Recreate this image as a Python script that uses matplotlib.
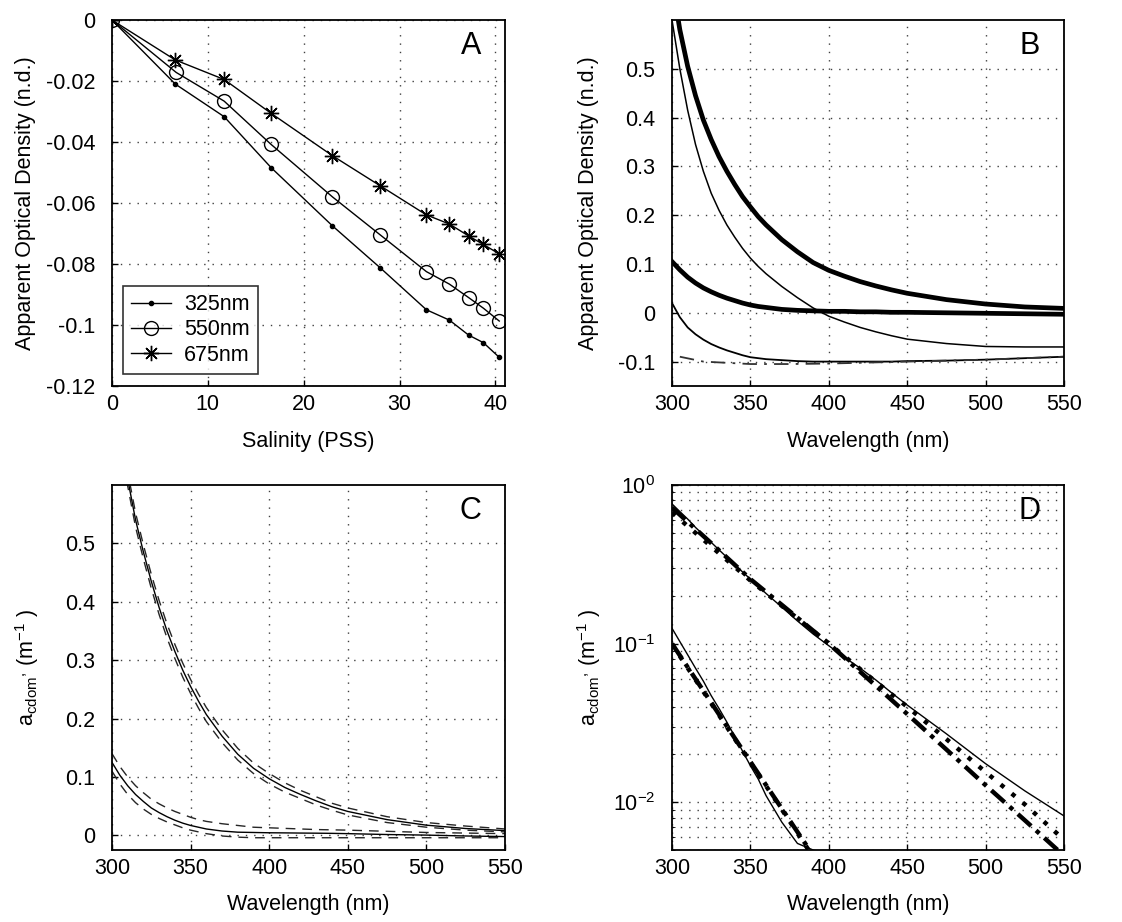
import numpy as np
import matplotlib
matplotlib.use("Agg")
import matplotlib.pyplot as plt

plt.rcParams['font.family'] = ['Liberation Sans', 'DejaVu Sans']
plt.rcParams['mathtext.fontset'] = 'custom'
plt.rcParams['mathtext.rm'] = 'Liberation Sans'
plt.rcParams['mathtext.it'] = 'Liberation Sans'
plt.rcParams['font.size'] = 15.5

# panel A: optical density vs salinity
sal_325 = [0, 6.6, 11.7, 16.6, 23.0, 28.0, 32.8, 35.2, 37.2, 38.75, 40.4]
od_325 = [0, -0.021, -0.0317, -0.0484, -0.0675, -0.0813, -0.095, -0.0984, -0.1033, -0.1058, -0.1106]
sal_550 = [0, 6.7, 11.7, 16.6, 23.0, 28.0, 32.8, 35.2, 37.2, 38.75, 40.4]
od_550 = [0, -0.0172, -0.0266, -0.0408, -0.058, -0.0705, -0.0825, -0.0866, -0.091, -0.0945, -0.0987]
sal_675 = [0, 6.6, 11.7, 16.6, 23.0, 28.0, 32.8, 35.2, 37.2, 38.75, 40.4]
od_675 = [0, -0.0131, -0.0195, -0.0306, -0.0445, -0.0544, -0.0639, -0.0669, -0.0708, -0.0736, -0.0767]

# panel B: spectra
wl_b = [300, 305, 310, 315, 320, 325, 330, 335, 340, 345, 350, 355, 360,
        370, 380, 390, 400, 410, 420, 430, 440, 450, 475, 500, 525, 550]
b_thick_hi = [0.68, 0.58, 0.505, 0.445, 0.395, 0.355, 0.32, 0.29, 0.263, 0.238, 0.217, 0.197, 0.18,
              0.15, 0.125, 0.103, 0.087, 0.075, 0.064, 0.055, 0.047, 0.04, 0.027, 0.018, 0.012, 0.009]
b_thin_hi = [0.6, 0.5, 0.415, 0.345, 0.29, 0.245, 0.21, 0.18, 0.155, 0.132, 0.112, 0.095, 0.08,
             0.054, 0.031, 0.01, -0.007, -0.019, -0.03, -0.039, -0.047, -0.054, -0.063, -0.069, -0.07, -0.07]
b_thick_lo = [0.105, 0.088, 0.073, 0.061, 0.051, 0.043, 0.036, 0.03, 0.025, 0.02, 0.016, 0.013, 0.011,
              0.007, 0.005, 0.004, 0.003, 0.003, 0.002, 0.002, 0.001, 0.001, 0.0, -0.001, -0.002, -0.003]
b_thin_lo = [0.02, -0.009, -0.03, -0.044, -0.055, -0.064, -0.071, -0.077, -0.082, -0.087, -0.091, -0.093, -0.095,
             -0.097, -0.099, -0.1, -0.1, -0.1, -0.1, -0.1, -0.1, -0.099, -0.098, -0.096, -0.093, -0.09]
wl_b2 = [305, 320, 350, 375, 400, 425, 450, 475, 500, 525, 550]
b_dashdot = [-0.09, -0.1, -0.105, -0.105, -0.104, -0.102, -0.1, -0.098, -0.096, -0.093, -0.09]

# panel C / D: a_cdom spectra (solid = mean, dashed = bounds)
wl_c = [300, 305, 310, 315, 320, 325, 330, 335, 340, 345, 350, 355, 360,
        370, 380, 390, 400, 410, 420, 430, 440, 450, 475, 500, 525, 550]
c_hi = [0.76, 0.68, 0.61, 0.54, 0.485, 0.435, 0.39, 0.35, 0.315, 0.283, 0.255, 0.23, 0.207,
        0.17, 0.139, 0.115, 0.097, 0.082, 0.07, 0.059, 0.049, 0.041, 0.027, 0.0175, 0.0118, 0.0082]
c_hi_up = [0.772, 0.692, 0.622, 0.552, 0.497, 0.447, 0.402, 0.362, 0.327, 0.295, 0.267, 0.242, 0.219,
           0.181, 0.149, 0.124, 0.106, 0.09, 0.077, 0.066, 0.055, 0.047, 0.032, 0.022, 0.016, 0.011]
c_hi_dn = [0.748, 0.668, 0.598, 0.528, 0.473, 0.423, 0.378, 0.338, 0.303, 0.271, 0.243, 0.218, 0.195,
           0.159, 0.129, 0.106, 0.088, 0.074, 0.063, 0.052, 0.043, 0.035, 0.022, 0.014, 0.009, 0.006]
c_lo = [0.125, 0.103, 0.085, 0.07, 0.058, 0.047, 0.039, 0.032, 0.026, 0.021, 0.017, 0.014, 0.011,
        0.0075, 0.0055, 0.005, 0.0045, 0.0043, 0.004, 0.0038, 0.0035, 0.003, 0.0015, 0.0005, -0.001, -0.002]
c_lo_up = [0.14, 0.118, 0.1, 0.085, 0.073, 0.062, 0.054, 0.047, 0.041, 0.036, 0.031, 0.027, 0.024,
           0.02, 0.017, 0.014, 0.013, 0.012, 0.011, 0.01, 0.0095, 0.009, 0.007, 0.005, 0.004, 0.003]
c_lo_dn = [0.11, 0.088, 0.07, 0.056, 0.045, 0.036, 0.029, 0.023, 0.018, 0.013, 0.009, 0.006, 0.003,
           -0.001, -0.003, -0.004, -0.004, -0.004, -0.004, -0.004, -0.004, -0.004, -0.004, -0.004, -0.004, -0.004]

# panel D: model fits (dash-dot) and alternative fits (dotted)
wl_d = [300, 325, 350, 375, 400, 425, 450, 475, 500, 525, 550]
d_fit_hi = [0.72, 0.43, 0.255, 0.16, 0.1, 0.06, 0.036, 0.0215, 0.0128, 0.0077, 0.0046]
d_dot_hi = [0.67, 0.41, 0.25, 0.158, 0.1, 0.063, 0.04, 0.025, 0.0155, 0.0097, 0.0058]
d_fit_lo = [0.1, 0.0425, 0.018, 0.0077, 0.0033, 0.0014, 0.0006, 0.0003, 0.0001, 0.00005, 0.00002]
d_dot_lo = [0.099, 0.042, 0.0178, 0.0076, 0.0032, 0.0014, 0.0006, 0.0003, 0.0001, 0.00005, 0.00002]

W, H = 1122, 922
fig = plt.figure(figsize=(W / 100, H / 100), dpi=100)

def box(l, t, w, h):
    return [l / W, (H - t - h) / H, w / W, h / H]

axA = fig.add_axes(box(112, 20, 393, 366))
axB = fig.add_axes(box(672, 20, 392, 366))
axC = fig.add_axes(box(112, 485, 393, 365))
axD = fig.add_axes(box(672, 485, 392, 365))

for ax in (axA, axB, axC, axD):
    ax.grid(True, which='major', color='0.25', linestyle=(0, (1, 5)), linewidth=1.0)
    ax.tick_params(direction='in', length=4, width=1, pad=6)
    ax.tick_params(axis='y', pad=12)
    for s in ax.spines.values():
        s.set_linewidth(1.3)

k = 'k'
axA.plot(sal_325, od_325, '-', color=k, lw=1, marker='.', ms=6, label='325nm')
axA.plot(sal_550, od_550, '-', color=k, lw=1, marker='o', ms=10, mfc='none', mew=1, label='550nm')
axA.plot(sal_675, od_675, '-', color=k, lw=1, marker=(8, 2, 0), ms=11, mew=1, label='675nm')
axA.set_xlim(0, 41)
axA.set_ylim(-0.12, 0)
axA.set_xticks([0, 10, 20, 30, 40])
axA.set_yticks([-0.12, -0.1, -0.08, -0.06, -0.04, -0.02, 0])
axA.set_yticklabels(['-0.12', '-0.1', '-0.08', '-0.06', '-0.04', '-0.02', '0'])
axA.set_xlabel('Salinity (PSS)')
axA.set_ylabel('Apparent Optical Density (n.d.)')
leg = axA.legend(loc='lower left', bbox_to_anchor=(0.028, 0.033), fancybox=False,
                 edgecolor='k', handlelength=1.85, handletextpad=0.6,
                 borderpad=0.38, labelspacing=0.2, borderaxespad=0)
leg.get_frame().set_linewidth(1.2)
axA.text(0.913, 0.93, 'A', transform=axA.transAxes, fontsize=22, ha='center', va='center')

axB.plot(wl_b, b_thick_hi, color=k, lw=3.4)
axB.plot(wl_b, b_thin_hi, color=k, lw=1.1)
axB.plot(wl_b, b_thick_lo, color=k, lw=3.4)
axB.plot(wl_b, b_thin_lo, color=k, lw=1.3)
axB.plot(wl_b2, b_dashdot, color='0.2', lw=1.3, linestyle=(0, (8, 4, 1.5, 4)))
axB.set_xlim(300, 550)
axB.set_ylim(-0.15, 0.6)
axB.set_yticks([-0.1, 0, 0.1, 0.2, 0.3, 0.4, 0.5])
axB.set_yticklabels(['-0.1', '0', '0.1', '0.2', '0.3', '0.4', '0.5'])
axB.set_xlabel('Wavelength (nm)')
axB.set_ylabel('Apparent Optical Density (n.d.)')
axB.text(0.913, 0.93, 'B', transform=axB.transAxes, fontsize=22, ha='center', va='center')

for ys in (c_hi, c_lo):
    axC.plot(wl_c, ys, color=k, lw=1)
for ys in (c_hi_up, c_hi_dn, c_lo_up, c_lo_dn):
    axC.plot(wl_c, ys, color='0.15', lw=1, linestyle=(0, (7, 5)))
axC.set_xlim(300, 550)
axC.set_ylim(-0.025, 0.6)
axC.set_yticks([0, 0.1, 0.2, 0.3, 0.4, 0.5])
axC.set_yticklabels(['0', '0.1', '0.2', '0.3', '0.4', '0.5'])
axC.set_xlabel('Wavelength (nm)')
ylab = r'a$_{\mathregular{cdom}}$$^{\mathregular{,}}$ (m$^{\mathregular{-1}}$ )'
axC.set_ylabel(ylab)
axC.text(0.913, 0.93, 'C', transform=axC.transAxes, fontsize=22, ha='center', va='center')

axD.set_yscale('log')
axD.grid(True, which='minor', color='0.25', linestyle=(0, (1, 5)), linewidth=1.0)
axD.plot(wl_c, c_hi, color=k, lw=1)
axD.plot(wl_c, np.clip(c_lo, 1e-5, None), color=k, lw=1)
axD.plot(wl_d, d_fit_hi, color=k, lw=3.2, linestyle=(0, (4, 1.5, 1, 1.5)))
axD.plot(wl_d, d_dot_hi, color=k, lw=3.2, linestyle=(0, (1, 2.2)))
axD.plot(wl_d, d_fit_lo, color=k, lw=3.2, linestyle=(0, (4, 1.5, 1, 1.5)))
axD.plot(wl_d, d_dot_lo, color=k, lw=3.2, linestyle=(0, (1, 2.2)))
axD.set_xlim(300, 550)
axD.set_ylim(0.005, 1)
axD.set_yticks([0.01, 0.1, 1])
axD.set_yticklabels([r'10$^{\mathregular{-2}}$', r'10$^{\mathregular{-1}}$', r'10$^{\mathregular{0}}$'])
axD.tick_params(which='minor', direction='in', length=2)
axD.yaxis.set_minor_formatter(matplotlib.ticker.NullFormatter())
axD.set_xlabel('Wavelength (nm)')
axD.set_ylabel(ylab)
axD.text(0.913, 0.93, 'D', transform=axD.transAxes, fontsize=22, ha='center', va='center')

for ax in (axB, axC, axD):
    ax.set_xticks([300, 350, 400, 450, 500, 550])

# label positions (axes fraction)
axA.yaxis.set_label_coords(-0.221, 0.5)
axB.yaxis.set_label_coords(-0.212, 0.5)
axC.yaxis.set_label_coords(-0.216, 0.5)
axD.yaxis.set_label_coords(-0.212, 0.5)
for ax in (axA, axB):
    ax.xaxis.set_label_coords(0.5, -0.153)
for ax in (axC, axD):
    ax.xaxis.set_label_coords(0.5, -0.148)
for ax in (axA, axB, axC, axD):
    ax.xaxis.label.set_va('center')
    ax.yaxis.label.set_va('center')

fig.savefig('out.png', dpi=100)
